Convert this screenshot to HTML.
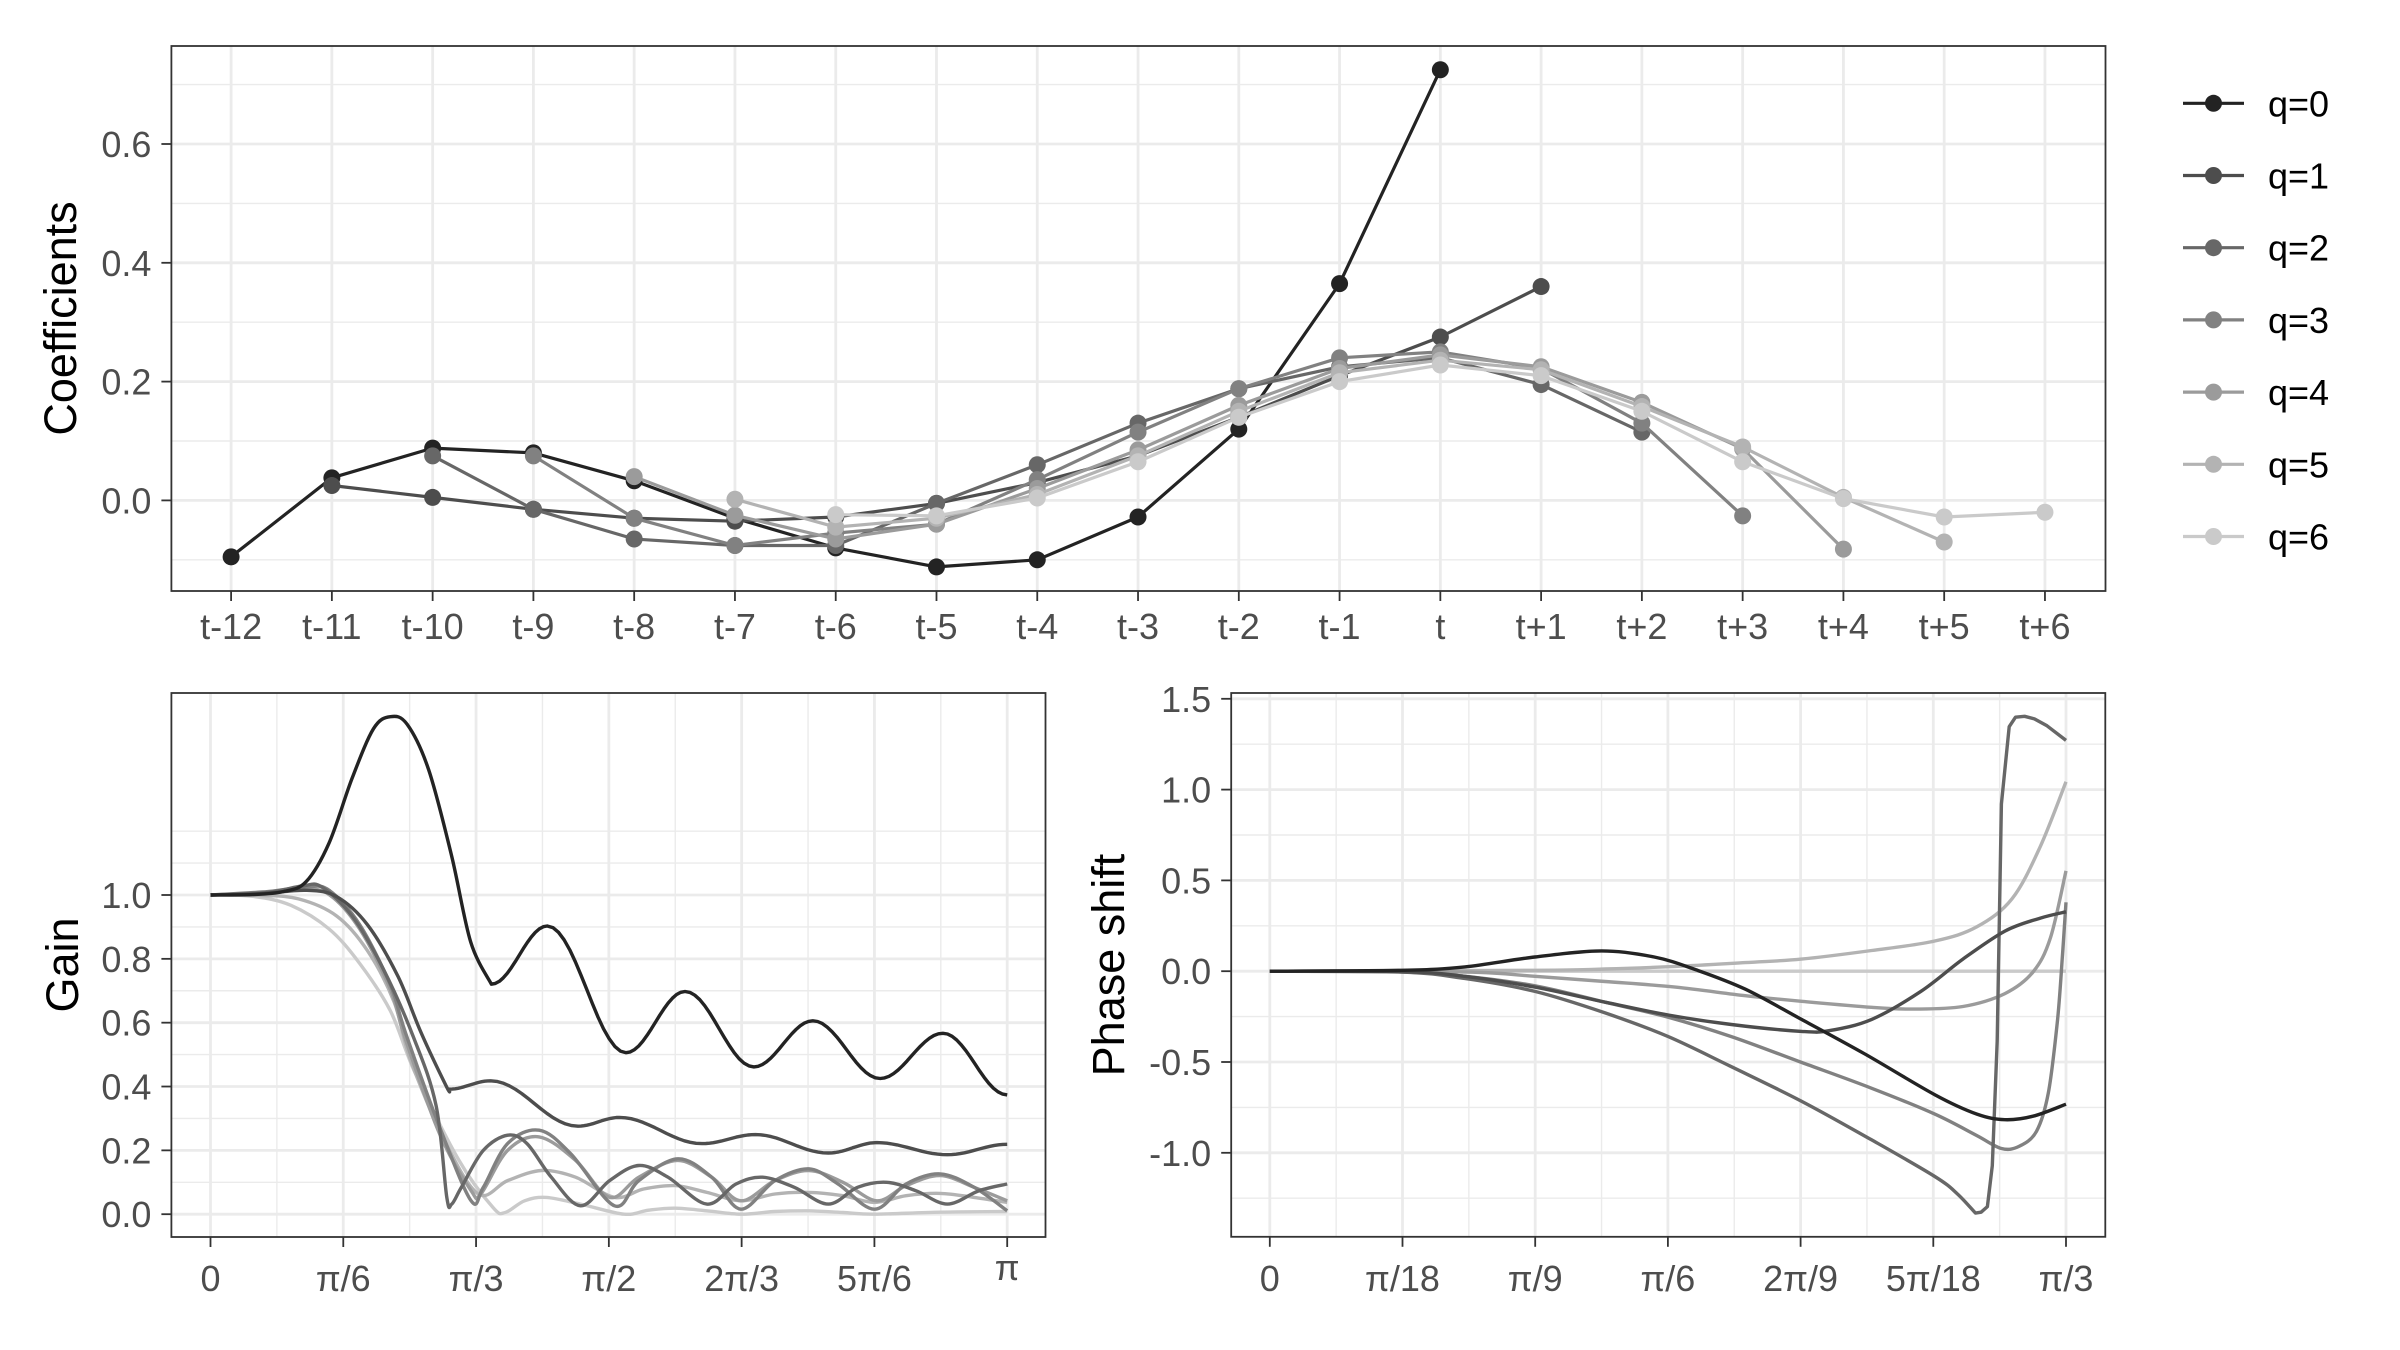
<!DOCTYPE html>
<html><head><meta charset="utf-8"><style>
html,body{margin:0;padding:0;background:#fff;}
svg{display:block;font-family:"Liberation Sans",Arial,sans-serif;}
</style></head><body>
<svg id="s" width="2400" height="1350" viewBox="0 0 2400 1350" xmlns="http://www.w3.org/2000/svg">
<defs>
<clipPath id="c1"><rect x="171.4" y="46" width="1934" height="545"/></clipPath>
<clipPath id="c2"><rect x="171.4" y="693" width="874" height="544"/></clipPath>
<clipPath id="c3"><rect x="1231.2" y="693" width="874" height="544"/></clipPath>
</defs>
</svg>
<script>
const NS="http://www.w3.org/2000/svg",S=document.getElementById('s');
function el(t,a,txt,p){const e=document.createElementNS(NS,t);for(const k in a)e.setAttribute(k,a[k]);if(txt!=null)e.textContent=txt;(p||S).appendChild(e);return e;}
function grp(a){return el('g',a||{});}
function cr(pts){let d='M'+pts[0][0].toFixed(1)+','+pts[0][1].toFixed(1);for(let i=0;i<pts.length-1;i++){const p0=pts[Math.max(0,i-1)],p1=pts[i],p2=pts[i+1],p3=pts[Math.min(pts.length-1,i+2)];const c1=[p1[0]+(p2[0]-p0[0])/6,p1[1]+(p2[1]-p0[1])/6],c2=[p2[0]-(p3[0]-p1[0])/6,p2[1]-(p3[1]-p1[1])/6];d+='C'+c1[0].toFixed(1)+','+c1[1].toFixed(1)+' '+c2[0].toFixed(1)+','+c2[1].toFixed(1)+' '+p2[0].toFixed(1)+','+p2[1].toFixed(1);}return d;}
function pl(pts){return 'M'+pts.map(p=>p[0].toFixed(1)+','+p[1].toFixed(1)).join('L');}
// cosine interpolation between extrema
function cosx(ex,n){n=n||12;const out=[ex[0]];for(let i=0;i<ex.length-1;i++){const a=ex[i],b=ex[i+1];for(let k=1;k<=n;k++){const t=k/n,e=(1-Math.cos(Math.PI*t))/2;out.push([a[0]+(b[0]-a[0])*t,a[1]+(b[1]-a[1])*e]);}}return out;}
const COLS=['#232323','#4d4d4d','#676767','#818181','#9b9b9b','#b3b3b3','#cacaca'];
const TK='#4d4d4d';
function hl(g,x1,x2,y,w){el('line',{x1:x1,x2:x2,y1:y,y2:y,stroke:'#ebebeb','stroke-width':w},null,g);}
function vl(g,x,y1,y2,w){el('line',{x1:x,x2:x,y1:y1,y2:y2,stroke:'#ebebeb','stroke-width':w},null,g);}

// ---------- TOP PANEL ----------
{const L=171.4,R=2105.5,T=46,B=591;const Y=v=>500.4-v*594, X=i=>231.1+(i+12)*100.77;
const g=grp();
[-0.1,0.1,0.3,0.5,0.7].forEach(v=>hl(g,L,R,Y(v),1.4));
[0,0.2,0.4,0.6].forEach(v=>hl(g,L,R,Y(v),2.8));
for(let i=-12;i<=6;i++)vl(g,X(i),T,B,2.8);
const D=[
[[-12,-0.095],[-11,0.038],[-10,0.088],[-9,0.080],[-8,0.033],[-7,-0.030],[-6,-0.080],[-5,-0.112],[-4,-0.100],[-3,-0.028],[-2,0.120],[-1,0.365],[0,0.725]],
[[-11,0.025],[-10,0.005],[-9,-0.015],[-8,-0.030],[-7,-0.035],[-6,-0.028],[-5,-0.005],[-4,0.030],[-3,0.075],[-2,0.140],[-1,0.210],[0,0.275],[1,0.360]],
[[-10,0.075],[-9,-0.015],[-8,-0.065],[-7,-0.076],[-6,-0.076],[-5,-0.005],[-4,0.060],[-3,0.130],[-2,0.188],[-1,0.225],[0,0.240],[1,0.195],[2,0.115]],
[[-9,0.075],[-8,-0.030],[-7,-0.076],[-6,-0.055],[-5,-0.040],[-4,0.035],[-3,0.115],[-2,0.188],[-1,0.240],[0,0.250],[1,0.222],[2,0.130],[3,-0.026]],
[[-8,0.040],[-7,-0.025],[-6,-0.065],[-5,-0.040],[-4,0.020],[-3,0.085],[-2,0.160],[-1,0.222],[0,0.245],[1,0.225],[2,0.165],[3,0.087],[4,-0.082]],
[[-7,0.002],[-6,-0.045],[-5,-0.030],[-4,0.010],[-3,0.075],[-2,0.150],[-1,0.215],[0,0.236],[1,0.220],[2,0.158],[3,0.090],[4,0.005],[5,-0.070]],
[[-6,-0.024],[-5,-0.026],[-4,0.004],[-3,0.065],[-2,0.140],[-1,0.200],[0,0.228],[1,0.210],[2,0.150],[3,0.065],[4,0.003],[5,-0.028],[6,-0.020]]];
const gd=grp({'clip-path':'url(#c1)'});
D.forEach((s,q)=>{const pts=s.map(p=>[X(p[0]),Y(p[1])]);el('path',{d:pl(pts),fill:'none',stroke:COLS[q],'stroke-width':3.2,'stroke-linejoin':'round'},null,gd);pts.forEach(p=>el('circle',{cx:p[0],cy:p[1],r:8.5,fill:COLS[q]},null,gd));});
el('rect',{x:L,y:T,width:R-L,height:B-T,fill:'none',stroke:'#333','stroke-width':1.8});
[0,0.2,0.4,0.6].forEach(v=>{el('line',{x1:L-10,x2:L,y1:Y(v),y2:Y(v),stroke:'#333','stroke-width':1.8});el('text',{x:L-20,y:Y(v)+13,'text-anchor':'end','font-size':36,fill:TK},v.toFixed(1));});
const lab=['t-12','t-11','t-10','t-9','t-8','t-7','t-6','t-5','t-4','t-3','t-2','t-1','t','t+1','t+2','t+3','t+4','t+5','t+6'];
for(let i=-12;i<=6;i++){el('line',{x1:X(i),x2:X(i),y1:B,y2:B+10,stroke:'#333','stroke-width':1.8});el('text',{x:X(i),y:639,'text-anchor':'middle','font-size':36,fill:TK},lab[i+12]);}
el('text',{x:76,y:318.5,'text-anchor':'middle','font-size':45,fill:'#000',transform:'rotate(-90 76 318.5)'},'Coefficients');
for(let q=0;q<7;q++){const y=103.3+q*72.2;el('line',{x1:2183,x2:2244,y1:y,y2:y,stroke:COLS[q],'stroke-width':3.2});el('circle',{cx:2213.5,cy:y,r:8.5,fill:COLS[q]});el('text',{x:2268,y:y+13,'font-size':36,fill:'#000'},'q='+q);}
}

// ---------- GAIN PANEL ----------
{const L=171.4,R=1045.5,T=693,B=1237;const X=w=>210.5+w*796.7,Y=v=>1214.2-v*319.2;
const g=grp();
[0.1,0.3,0.5,0.7,0.9,1.1,1.2].forEach(v=>hl(g,L,R,Y(v),1.4));
[0,0.2,0.4,0.6,0.8,1.0].forEach(v=>hl(g,L,R,Y(v),2.8));
for(let k=0;k<6;k++)vl(g,X((k+0.5)/6),T,B,1.4);
for(let k=0;k<=6;k++)vl(g,X(k/6),T,B,2.8);
const z3=(a,b)=>[X((a-275)/1041),Y((1252-b)/741)];
const z5=(a,b)=>[X(1/6+(a-92)/1366*5/6),Y((640-b)/950)];
const q0head=cr([[275,511],[330,510],[370,503],[400,480],[430,390],[460,240],[488,125],[510,97],[532,115],[560,220],[590,420],[615,620],[642,718]].map(p=>z3(...p))).slice(0);
const q0tail=cosx([[642,718],[715,583],[818,877],[895,735],[985,910],[1062,803],[1150,937],[1232,832],[1316,975]].map(p=>z3(...p)),14);
const q1head=cr([[275,511],[340,508],[400,500],[440,515],[480,580],[520,700],[550,830]].map(p=>z3(...p)).concat([z5(305,262),z5(310,268)]));
const q1tail=cosx([[310,268],[395,243],[575,378],[660,352],[830,430],[940,403],[1090,458],[1190,427],[1335,463],[1458,432]].map(p=>z5(...p)),14);
const C=[
null,null,
[...[[275,511],[350,505],[395,490],[420,492],[460,560],[500,680],[540,840]].map(p=>z3(...p)),...[[283,317],[305,590],[315,610],[335,560],[380,450],[430,405],[470,430],[520,530],[580,615],[640,540],[700,495],[760,530],[840,610],[900,550],[955,530],[1020,560],[1090,610],[1150,560],[1210,545],[1270,570],[1335,610],[1400,570],[1458,550]].map(p=>z5(...p))],
[...[[275,511],[350,503],[400,492],[430,500],[470,580],[510,720]].map(p=>z3(...p)),...[[220,100],[290,380],[355,600],[380,560],[430,430],[495,390],[560,460],[650,615],[700,540],[780,475],[850,530],[910,625],[980,540],[1050,505],[1110,550],[1185,625],[1250,550],[1320,520],[1390,560],[1458,630]].map(p=>z5(...p))],
[...[[275,511],[350,505],[395,497],[430,510],[470,590],[510,730]].map(p=>z3(...p)),...[[220,120],[290,400],[355,570],[375,580],[430,450],[495,410],[570,480],[640,590],[700,530],[780,480],[850,530],[910,600],[980,540],[1050,510],[1120,545],[1190,600],[1250,555],[1320,525],[1390,560],[1458,600]].map(p=>z5(...p))],
[...[[275,511],[340,512],[390,520],[440,560],[480,640],[515,760]].map(p=>z3(...p)),...[[230,180],[300,420],[370,580],[430,540],[500,510],[570,530],[650,590],[710,565],[775,555],[840,575],[910,600],[980,580],[1050,575],[1120,585],[1185,605],[1250,585],[1320,578],[1390,590],[1458,605]].map(p=>z5(...p))],
[...[[275,511],[330,514],[380,535],[430,590],[470,670],[510,780]].map(p=>z3(...p)),...[[240,220],[330,480],[400,620],[425,635],[465,600],[510,590],[580,610],[670,640],[720,628],[775,622],[840,630],[910,640],[980,632],[1050,630],[1120,635],[1185,640],[1320,634],[1458,632]].map(p=>z5(...p))]];
const gd=grp({'clip-path':'url(#c2)'});
for(let q=6;q>=2;q--)el('path',{d:cr(C[q]),fill:'none',stroke:COLS[q],'stroke-width':3.4,'stroke-linejoin':'round'},null,gd);
el('path',{d:q1head+'L'+pl(q1tail).slice(1),fill:'none',stroke:COLS[1],'stroke-width':3.4,'stroke-linejoin':'round'},null,gd);
el('path',{d:q0head+'L'+pl(q0tail).slice(1),fill:'none',stroke:COLS[0],'stroke-width':3.4,'stroke-linejoin':'round'},null,gd);
el('rect',{x:L,y:T,width:R-L,height:B-T,fill:'none',stroke:'#333','stroke-width':1.8});
[0,0.2,0.4,0.6,0.8,1.0].forEach(v=>{el('line',{x1:L-10,x2:L,y1:Y(v),y2:Y(v),stroke:'#333','stroke-width':1.8});el('text',{x:L-20,y:Y(v)+13,'text-anchor':'end','font-size':36,fill:TK},v.toFixed(1));});
const lab=['0','π/6','π/3','π/2','2π/3','5π/6','π'];
for(let k=0;k<=6;k++){el('line',{x1:X(k/6),x2:X(k/6),y1:B,y2:B+10,stroke:'#333','stroke-width':1.8});el('text',{x:X(k/6),y:k==6?1280:1291,'text-anchor':'middle','font-size':36,fill:TK},lab[k]);}
el('text',{x:78,y:965,'text-anchor':'middle','font-size':45,fill:'#000',transform:'rotate(-90 78 965)'},'Gain');
}

// ---------- PHASE PANEL ----------
{const L=1231.2,R=2105.3,T=693,B=1236.8;const X=w=>1269.8+w*796.2,Y=v=>971.2-v*181.6;
const g=grp();
[-1.25,-0.75,-0.25,0.25,0.75,1.25].forEach(v=>hl(g,L,R,Y(v),1.4));
[-1,-0.5,0,0.5,1,1.5].forEach(v=>hl(g,L,R,Y(v),2.8));
for(let k=0;k<6;k++)vl(g,X((k+0.5)/6),T,B,1.4);
for(let k=0;k<=6;k++)vl(g,X(k/6),T,B,2.8);
const z4=(a,b)=>[1100+a/1.4255,675+b/2.323];
const C=[
[[242,688],[430,686],[520,678],[620,655],[715,641],[790,655],[850,685],[920,730],[1000,800],[1090,880],[1190,975],[1250,1020],[1290,1033],[1330,1025],[1377,997]],
[[242,688],[430,689],[520,700],[620,725],[720,760],[810,790],[900,812],[1000,828],[1040,826],[1100,800],[1170,735],[1230,660],[1290,595],[1340,565],[1377,550]],
null,
[[242,688],[430,690],[520,700],[620,722],[720,760],[810,795],[900,840],[1000,900],[1100,960],[1190,1020],[1250,1070],[1285,1100],[1310,1095],[1335,1060],[1352,970],[1365,800],[1372,650],[1377,528]],
[[242,688],[520,690],[620,700],[720,712],[820,725],[920,745],[1000,758],[1100,772],[1160,776],[1230,770],[1290,740],[1330,690],[1355,610],[1377,455]],
[[242,688],[620,686],[720,683],[820,677],[920,668],[1000,660],[1100,640],[1190,618],[1250,585],[1300,520],[1340,400],[1377,248]],
[[242,688],[1377,688]]];
const q2a=[[242,688],[430,690],[520,705],[620,735],[720,785],[810,840],[900,910],[1000,990],[1100,1080],[1190,1165],[1222,1205],[1248,1250]];
const gd=grp({'clip-path':'url(#c3)'});
el('path',{d:pl(C[6].map(p=>z4(...p))),fill:'none',stroke:COLS[6],'stroke-width':3.4},null,gd);
for(let q=5;q>=0;q--){
 if(q==2){const a=cr(q2a.map(p=>z4(...p)));const b=pl([[1248,1250],[1256,1248],[1265,1235],[1272,1140],[1279,850],[1285,300],[1296,120],[1305,98],[1318,96],[1332,102],[1350,118],[1377,152]].map(p=>z4(...p)));el('path',{d:a+'L'+b.slice(1),fill:'none',stroke:COLS[2],'stroke-width':3.4,'stroke-linejoin':'round'},null,gd);continue;}
 el('path',{d:cr(C[q].map(p=>z4(...p))),fill:'none',stroke:COLS[q],'stroke-width':3.4},null,gd);}
el('rect',{x:L,y:T,width:R-L,height:B-T,fill:'none',stroke:'#333','stroke-width':1.8});
[-1,-0.5,0,0.5,1,1.5].forEach(v=>{el('line',{x1:L-10,x2:L,y1:Y(v),y2:Y(v),stroke:'#333','stroke-width':1.8});el('text',{x:L-20,y:Y(v)+13,'text-anchor':'end','font-size':36,fill:TK},v.toFixed(1));});
const lab=['0','π/18','π/9','π/6','2π/9','5π/18','π/3'];
for(let k=0;k<=6;k++){el('line',{x1:X(k/6),x2:X(k/6),y1:B,y2:B+10,stroke:'#333','stroke-width':1.8});el('text',{x:X(k/6),y:1291,'text-anchor':'middle','font-size':36,fill:TK},lab[k]);}
el('text',{x:1124,y:965,'text-anchor':'middle','font-size':45,fill:'#000',transform:'rotate(-90 1124 965)'},'Phase shift');
}
</script>
</body></html>
